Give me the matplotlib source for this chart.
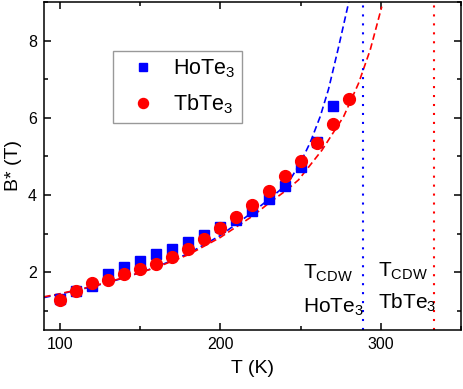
import matplotlib
matplotlib.use('Agg')
from matplotlib import pyplot as plt
from matplotlib.ticker import MultipleLocator

plt.rcParams['font.family'] = ['Liberation Sans', 'DejaVu Sans']
plt.rcParams['mathtext.fontset'] = 'custom'
plt.rcParams['mathtext.rm'] = 'Liberation Sans'
plt.rcParams['mathtext.it'] = 'Liberation Sans:italic'
plt.rcParams['mathtext.default'] = 'regular'

# measured points
T_ho = [100, 110, 120, 130, 140, 150, 160, 170, 180, 190, 200, 210, 220, 230, 240, 250, 260, 270]
B_ho = [1.30, 1.50, 1.64, 1.95, 2.14, 2.29, 2.47, 2.61, 2.77, 2.96, 3.18, 3.35, 3.59, 3.89, 4.23, 4.73, 5.38, 6.31]

T_tb = [100, 110, 120, 130, 140, 150, 160, 170, 180, 190, 200, 210, 220, 230, 240, 250, 260, 270, 280]
B_tb = [1.27, 1.51, 1.72, 1.79, 1.95, 2.09, 2.22, 2.40, 2.61, 2.85, 3.14, 3.43, 3.75, 4.10, 4.49, 4.88, 5.34, 5.85, 6.48]

# fit curves
Tfit_ho = [90, 100, 120, 140, 160, 180, 200, 220, 230, 237, 243.5, 249.7, 256, 262.2, 267.4, 273.6, 280.3]
Bfit_ho = [1.34, 1.43, 1.62, 1.85, 2.13, 2.48, 2.95, 3.55, 3.88, 4.12, 4.40, 4.82, 5.36, 6.03, 6.74, 7.82, 9.05]

Tfit_tb = [90, 100, 120, 140, 160, 180, 200, 220, 230, 241.4, 248.7, 263.3, 276.8, 286.1, 293.4, 300.6]
Bfit_tb = [1.36, 1.44, 1.63, 1.86, 2.12, 2.45, 2.90, 3.45, 3.78, 4.13, 4.39, 5.16, 6.03, 6.89, 7.76, 8.88]

Tcdw_ho = 289
Tcdw_tb = 333

fig = plt.figure(figsize=(4.63, 3.89), dpi=100)
ax = fig.add_axes([0.095, 0.1517, 0.9007, 0.8432])

dash = (0, (4, 2.2))
ax.plot(Tfit_ho, Bfit_ho, color='blue', lw=1.2, linestyle=dash)
ax.plot(Tfit_tb, Bfit_tb, color='red', lw=1.2, linestyle=dash)
ax.axvline(Tcdw_ho, color='blue', lw=1.5, linestyle=(0, (1, 3.3)))
ax.axvline(Tcdw_tb, color='red', lw=1.5, linestyle=(0, (1, 3.3)))

ax.plot(T_ho, B_ho, 's', color='blue', ms=7.5, mec='blue', label='HoTe$_3$')
ax.plot(T_tb, B_tb, 'o', color='red', ms=8.5, mec='red', label='TbTe$_3$')

ax.text(251.5, 1.82, 'T$_{CDW}$', fontsize=15)
ax.text(251.5, 0.94, 'HoTe$_3$', fontsize=15)
ax.text(298.5, 1.87, 'T$_{CDW}$', fontsize=15)
ax.text(298.5, 1.04, 'TbTe$_3$', fontsize=15)

ax.set_xlim(90, 350)
ax.set_ylim(0.5, 9)
ax.xaxis.set_major_locator(MultipleLocator(100))
ax.xaxis.set_minor_locator(MultipleLocator(50))
ax.yaxis.set_major_locator(MultipleLocator(2))
ax.yaxis.set_minor_locator(MultipleLocator(1))
ax.tick_params(which='both', direction='in', top=True, right=True, labelsize=11.5, width=1.1)
ax.tick_params(which='major', length=5, pad=5)
ax.tick_params(which='minor', length=3)
for s in ax.spines.values():
    s.set_linewidth(1.1)

ax.set_xlabel('T (K)', fontsize=14, labelpad=6)
ax.set_ylabel('B* (T)', fontsize=14, labelpad=4)

leg = ax.legend(loc='upper left', bbox_to_anchor=(0.165, 0.851), borderaxespad=0,
                fancybox=False, fontsize=15.5, markerscale=0.85, handlelength=2.2,
                handletextpad=0.3, labelspacing=0.6, borderpad=0.3, edgecolor='gray')
leg.get_frame().set_linewidth(1.0)

plt.savefig('out.png', dpi=100)
